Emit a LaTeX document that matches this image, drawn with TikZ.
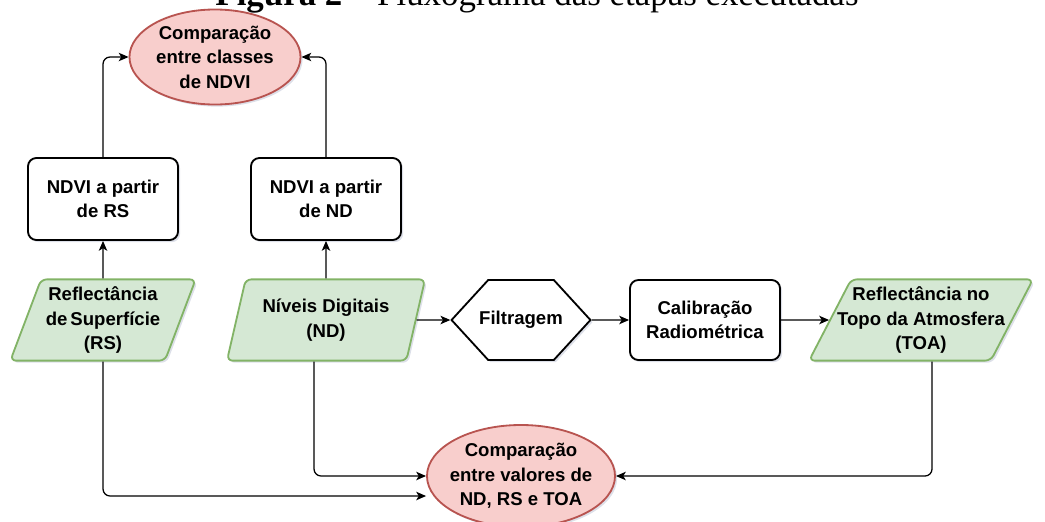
\documentclass[tikz,border=0pt]{standalone}
\usepackage{fontspec}
\setmainfont{Liberation Serif}
\setsansfont{Liberation Sans}
\usetikzlibrary{arrows.meta,shapes.geometric,shapes.symbols,shadows}
\definecolor{redfill}{HTML}{F8CECC}
\definecolor{redline}{HTML}{B85450}
\definecolor{greenfill}{HTML}{D5E8D4}
\definecolor{greenline}{HTML}{82B366}
\definecolor{shade}{HTML}{9FA6C0}

\begin{document}
\begin{tikzpicture}[x=0.025cm,y=-0.025cm,>={Stealth[length=7pt,width=6pt,inset=1.8pt]},
        every node/.style={font=\sffamily\bfseries\fontsize{13.2}{17.4}\selectfont,align=center},
        sombra/.style={drop shadow={shadow xshift=1.5pt,shadow yshift=-1.5pt,fill=shade,opacity=0.35}},
        processo/.style={draw,line width=1.3pt,rounded corners=6pt,fill=white,minimum width=3.75cm,minimum height=2.05cm,sombra},
        dados/.style={trapezium,trapezium stretches body,draw=greenline,fill=greenfill,line width=1.3pt,rounded corners=4pt,minimum height=2.03cm,sombra},
        comparacao/.style={ellipse,draw=redline,fill=redfill,line width=1.3pt,inner sep=-4pt,sombra},
        seta/.style={->,line width=0.9pt,rounded corners=5pt}]
        \useasboundingbox (0,0) rectangle (1045,521);

        % titulo (cortado no topo)
        \node[font=\rmfamily\fontsize{24.8}{24.8}\selectfont,anchor=base] (titulo) at (537,5) {\textbf{Figura 2} -- Fluxograma das etapas executadas};

        % comparacoes
        \node[comparacao,minimum width=4.275cm,minimum height=2.375cm] (classes) at (215,57) {Comparação\\entre classes\\de NDVI};
        \node[comparacao,minimum width=4.7cm,minimum height=2.55cm] (valores) at (521,476) {Comparação\\entre valores de\\ND, RS e TOA};

        % NDVI
        \node[processo] (ndvirs) at (103,199) {NDVI a partir\\de RS};
        \node[processo] (ndvind) at (326,199) {NDVI a partir\\de ND};

        % dados de entrada e etapas
        \node[dados,trapezium left angle=68,trapezium right angle=112,minimum width=4.625cm] (rs) at (103,320) {Reflectância\\de\,Superfície\\(RS)};
        \node[dados,trapezium left angle=70,trapezium right angle=110,minimum width=4.95cm] (nd) at (326,320) {Níveis Digitais\\(ND)};
        \node[signal,signal to=east and west,signal pointer angle=95,draw,line width=1.3pt,fill=white,inner xsep=-6.4pt,minimum width=3.425cm,minimum height=2cm,sombra] (filtro) at (521,320) {Filtragem};
        \node[processo,minimum height=2cm] (calib) at (705,320) {Calibração\\Radiométrica};
        \node[dados,trapezium left angle=61,trapezium right angle=119,inner xsep=-10pt,minimum width=5.575cm] (toa) at (921,320) {Reflectância no\\Topo da Atmosfera\\(TOA)};

        % ligacoes
        \draw[seta] (ndvirs.north) |- (classes.west);
        \draw[seta] (ndvind.north) |- (classes.east);
        \draw[seta] (rs.north) -- (ndvirs.south);
        \draw[seta] (nd.north) -- (ndvind.south);
        \draw[seta] (nd.east) -- (filtro.west);
        \draw[seta] (filtro) -- (calib);
        \draw[seta] (calib) -- (toa);
        \draw[seta] (rs.south) |- ([yshift=-0.5cm]valores.west);
        \draw[seta] ([xshift=-0.3cm]nd.south) |- (valores.west);
        \draw[seta] ([xshift=0.275cm]toa.south) |- (valores.east);
\end{tikzpicture}
\end{document}
